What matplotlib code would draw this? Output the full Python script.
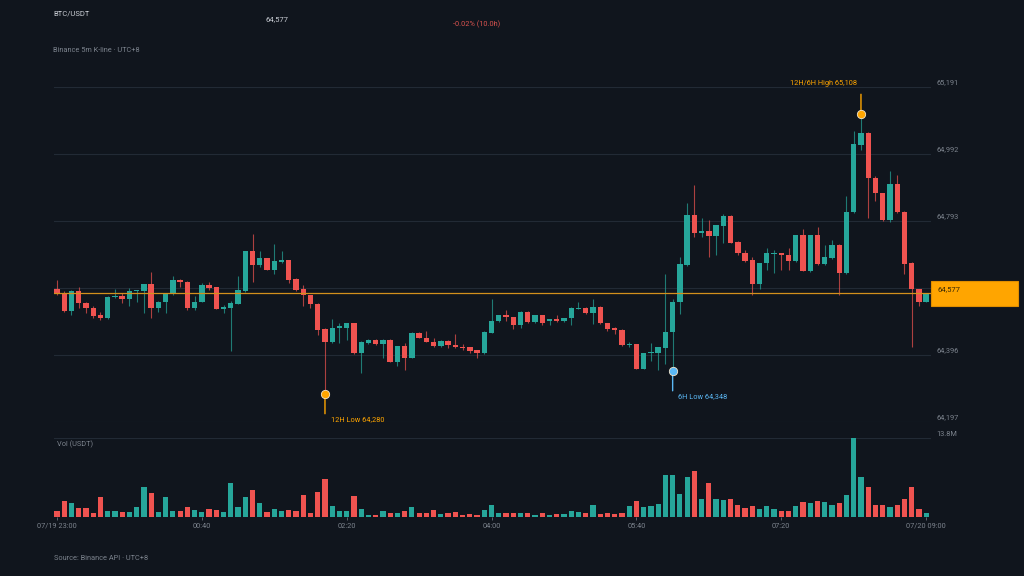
import matplotlib
matplotlib.use('Agg')
import matplotlib.pyplot as plt
from matplotlib.patches import Rectangle
import numpy as np

plt.rcParams['font.family'] = ['Roboto', 'DejaVu Sans']

# colours
BG = '#10151d'
GRID = '#222a35'
TEXT = '#c9cdd4'
MUTED = '#7c838d'
UP = '#26a69a'
DOWN = '#ef5350'
ORANGE = '#ffa500'
BLUE = '#5bb8f5'

# 5m candles, 07/19 23:00 .. 07/20 09:00 (UTC+8)
tick_idx = [0, 20, 40, 60, 80, 100, 120]
tick_labels = ['07/19 23:00', '00:40', '02:20', '04:00', '05:40', '07:20', '07/20 09:00']

opens = [64590, 64577, 64526, 64583, 64550, 64535, 64512, 64503, 64565, 64568,
         64562, 64583, 64583, 64604, 64535, 64553, 64574, 64618, 64612, 64535,
         64553, 64601, 64595, 64532, 64535, 64547, 64583, 64702, 64660, 64681,
         64648, 64669, 64675, 64621, 64589, 64571, 64547, 64473, 64434, 64476,
         64476, 64488, 64399, 64431, 64440, 64426, 64440, 64375, 64420, 64387,
         64461, 64446, 64434, 64420, 64437, 64423, 64417, 64417, 64408, 64399,
         64461, 64494, 64512, 64506, 64482, 64523, 64491, 64512, 64494, 64500,
         64494, 64503, 64532, 64535, 64518, 64538, 64488, 64476, 64470, 64423,
         64426, 64352, 64399, 64399, 64414, 64464, 64553, 64660, 64811, 64755,
         64761, 64746, 64776, 64808, 64731, 64696, 64675, 64604, 64666, 64693,
         64696, 64690, 64672, 64749, 64645, 64749, 64663, 64681, 64722, 64639,
         64820, 65016, 65052, 64918, 64874, 64796, 64903, 64820, 64666, 64589,
         64553]
highs = [64618, 64583, 64586, 64595, 64553, 64541, 64523, 64568, 64589, 64577,
         64592, 64588, 64606, 64642, 64555, 64576, 64630, 64620, 64614, 64568,
         64607, 64610, 64597, 64544, 64556, 64630, 64704, 64752, 64702, 64683,
         64725, 64702, 64677, 64623, 64601, 64573, 64549, 64475, 64500, 64488,
         64490, 64490, 64436, 64443, 64442, 64442, 64442, 64422, 64429, 64463,
         64463, 64467, 64446, 64439, 64439, 64458, 64426, 64419, 64410, 64466,
         64562, 64514, 64529, 64508, 64525, 64525, 64514, 64514, 64502, 64512,
         64505, 64537, 64553, 64537, 64562, 64540, 64490, 64478, 64472, 64434,
         64428, 64401, 64429, 64419, 64636, 64562, 64684, 64844, 64900, 64802,
         64796, 64781, 64814, 64811, 64733, 64707, 64684, 64668, 64713, 64707,
         64698, 64713, 64751, 64767, 64751, 64773, 64722, 64737, 64724, 64865,
         65058, 65108, 65055, 64924, 64876, 64939, 64927, 64822, 64669, 64591,
         64579]
lows = [64572, 64523, 64512, 64535, 64520, 64503, 64497, 64502, 64564, 64550,
        64541, 64553, 64518, 64503, 64523, 64518, 64572, 64595, 64529, 64529,
        64551, 64586, 64530, 64518, 64405, 64545, 64580, 64610, 64654, 64646,
        64636, 64667, 64607, 64584, 64541, 64535, 64455, 64280, 64431, 64431,
        64440, 64397, 64342, 64426, 64424, 64387, 64373, 64363, 64351, 64385,
        64444, 64432, 64418, 64418, 64414, 64415, 64408, 64399, 64387, 64397,
        64459, 64492, 64494, 64473, 64476, 64489, 64489, 64482, 64482, 64492,
        64492, 64482, 64530, 64516, 64485, 64486, 64467, 64458, 64421, 64417,
        64352, 64352, 64378, 64351, 64369, 64348, 64515, 64658, 64743, 64743,
        64684, 64690, 64728, 64726, 64690, 64670, 64571, 64589, 64648, 64639,
        64648, 64648, 64670, 64643, 64642, 64660, 64661, 64679, 64571, 64636,
        64817, 65001, 64802, 64850, 64793, 64788, 64817, 64636, 64417, 64541,
        64551]
closes = [64577, 64526, 64583, 64550, 64535, 64509, 64503, 64565, 64568, 64562,
          64583, 64586, 64604, 64535, 64553, 64574, 64618, 64610, 64535, 64553,
          64601, 64592, 64532, 64538, 64550, 64586, 64702, 64660, 64681, 64648,
          64672, 64675, 64618, 64586, 64571, 64547, 64470, 64434, 64476, 64479,
          64488, 64399, 64434, 64440, 64426, 64440, 64375, 64420, 64387, 64461,
          64446, 64434, 64420, 64437, 64423, 64417, 64414, 64405, 64399, 64464,
          64494, 64512, 64506, 64482, 64523, 64491, 64512, 64488, 64500, 64494,
          64503, 64535, 64535, 64518, 64538, 64488, 64473, 64470, 64423, 64426,
          64352, 64399, 64402, 64417, 64464, 64553, 64663, 64811, 64755, 64761,
          64746, 64779, 64808, 64728, 64696, 64672, 64604, 64666, 64696, 64696,
          64690, 64672, 64749, 64645, 64749, 64663, 64684, 64722, 64639, 64820,
          65019, 65052, 64918, 64874, 64796, 64903, 64820, 64663, 64589, 64553,
          64577]
# volume in million USDT
volume_m = [1.05, 2.69, 2.46, 1.52, 1.52, 0.70, 3.51, 1.05, 0.94, 0.82,
            0.82, 1.75, 5.26, 4.09, 0.82, 3.51, 0.94, 0.94, 1.75, 1.17,
            0.82, 1.29, 1.17, 0.82, 5.96, 1.64, 3.51, 4.68, 2.46, 0.82,
            1.29, 0.94, 1.17, 0.94, 3.86, 0.70, 4.33, 6.67, 1.87, 1.05,
            0.94, 3.63, 1.40, 0.35, 0.35, 0.94, 0.58, 0.58, 1.05, 1.64,
            0.70, 0.58, 1.17, 0.47, 0.70, 0.82, 0.35, 0.47, 0.35, 1.17,
            1.99, 0.70, 0.58, 0.70, 0.58, 0.70, 0.35, 0.58, 0.35, 0.47,
            0.47, 0.94, 0.82, 0.58, 2.11, 0.47, 0.70, 0.47, 0.70, 1.87,
            2.69, 1.75, 1.87, 2.22, 7.25, 7.25, 3.98, 7.02, 7.95, 3.16,
            5.96, 3.04, 2.92, 3.16, 2.11, 1.52, 1.87, 1.40, 1.87, 1.40,
            0.94, 0.94, 1.87, 2.57, 2.46, 2.69, 2.57, 2.11, 2.34, 3.86,
            13.8, 7.02, 5.26, 1.99, 1.99, 1.64, 1.99, 3.04, 5.15, 1.29,
            0.70]

o = np.array(opens, float)
h = np.array(highs, float)
l = np.array(lows, float)
c = np.array(closes, float)
v = np.array(volume_m, float)
idx = np.arange(len(o))
colors = [UP if cc >= oo else DOWN for oo, cc in zip(o, c)]

W, H = 1024, 576
fig = plt.figure(figsize=(W / 100, H / 100), dpi=100, facecolor=BG)
ax = fig.add_axes([53.5 / W, 1 - 421.5 / H, 877 / W, 335 / H], facecolor=BG)
axv = fig.add_axes([53.5 / W, 1 - 516.7 / H, 877 / W, 79 / H], facecolor=BG)

for a in (ax, axv):
    for s in a.spines.values():
        s.set_visible(False)
    a.set_xlim(-0.48, 120.6)

# ---- price pane ----
lo_i, hi_i = int(np.argmin(l)), int(np.argmax(h))
rng = h[hi_i] - l[lo_i]
ymin, ymax = l[lo_i] - 0.1 * rng, h[hi_i] + 0.1 * rng
ax.set_ylim(ymin, ymax)
ax.set_xticks([])
ax.set_yticks([])
yt = np.linspace(ymin, ymax, 6)
for val in yt:
    ax.axhline(val, color=GRID, lw=0.8, zorder=0)
    ax.text(1.0063, val, f'{val:,.0f}', transform=ax.get_yaxis_transform(),
            color=MUTED, fontsize=5.3, ha='left', va='bottom')

# wicks are thin and a bit dimmer than the bodies
ax.vlines(idx, l, h, colors=colors, lw=0.8, alpha=0.7, zorder=2)
ax.bar(idx, np.maximum(np.abs(c - o), 3), bottom=np.minimum(o, c), width=0.74,
       color=colors, zorder=3)

last = c[-1]
ax.axhline(last, color='#d3901c', lw=0.9, zorder=4)

# 12H high / low, 6H low markers
six_start = len(c) - 72
lo6_i = six_start + int(np.argmin(l[six_start:]))


def mark(i, price, col, label, up):
    dy = 14.5 if up else -14.5
    ax.annotate('', xy=(i, price), xytext=(0, dy), textcoords='offset points',
                arrowprops=dict(arrowstyle='-', color=col, lw=1, shrinkA=0, shrinkB=0),
                zorder=5)
    ax.plot(i, price, 'o', color=col, ms=6, mec='#f2e6cc', mew=0.6, zorder=6)
    if up:
        ax.annotate(label, xy=(i, price), xytext=(-3, 22), textcoords='offset points',
                    color=col, fontsize=5.3, ha='right', va='center')
    else:
        ax.annotate(label, xy=(i, price), xytext=(4, -18.5), textcoords='offset points',
                    color=col, fontsize=5.3, ha='left', va='center')


mark(hi_i, h[hi_i], ORANGE, f'12H/6H High {h[hi_i]:,.0f}', True)
mark(lo_i, l[lo_i], ORANGE, f'12H Low {l[lo_i]:,.0f}', False)
mark(lo6_i, l[lo6_i], BLUE, f'6H Low {l[lo6_i]:,.0f}', False)

# last price tag
ypix = ax.transData.transform((0, last))[1]
fig.patches.append(Rectangle((931 / W, (ypix - 12.5) / H), 87 / W, 25 / H,
                             transform=fig.transFigure, facecolor=ORANGE,
                             edgecolor='#e08e00', lw=0.8, zorder=10))
fig.text(937 / W, (ypix + 4.5) / H, f'{last:,.0f}', color='#3a2a05', fontsize=5.5,
         ha='left', va='center', zorder=11)

# ---- volume pane ----
axv.bar(idx, v, width=0.72, color=colors, zorder=3)
axv.set_ylim(0, v.max())
axv.set_yticks([])
axv.axhline(v.max(), color=GRID, lw=0.8, zorder=0)
axv.text(1.0063, v.max(), f'{v.max():.1f}M', transform=axv.get_yaxis_transform(),
         color=MUTED, fontsize=5.3, ha='left', va='bottom')
axv.text(0.004, 1 - 6.5 / 79, 'Vol (USDT)', transform=axv.transAxes,
         color=MUTED, fontsize=5.3, ha='left', va='center')
axv.set_xticks(tick_idx, tick_labels)
axv.tick_params(axis='x', length=2.5, width=0.7, color='#5d646e', pad=2,
                labelsize=5.3, labelcolor=MUTED)

# ---- header / footer ----
chg = (c[-1] - o[0]) / o[0] * 100
fig.text(53 / W, 1 - 13.5 / H, 'BTC/USDT', color=TEXT, fontsize=5.5, va='center')
fig.text(266 / W, 1 - 19 / H, f'{last:,.0f}', color=TEXT, fontsize=5.5, va='center')
fig.text(453 / W, 1 - 24 / H, f'{chg:.2f}% (10.0h)', color='#d9534f', fontsize=5.3,
         va='center')
fig.text(53 / W, 1 - 50 / H, 'Binance 5m K-line · UTC+8', color=MUTED, fontsize=5.3,
         va='center')
fig.text(54 / W, 1 - 559 / H, 'Source: Binance API · UTC+8', color=MUTED, fontsize=5.3,
         va='center')

fig.savefig('out.png', dpi=100, facecolor=BG)
